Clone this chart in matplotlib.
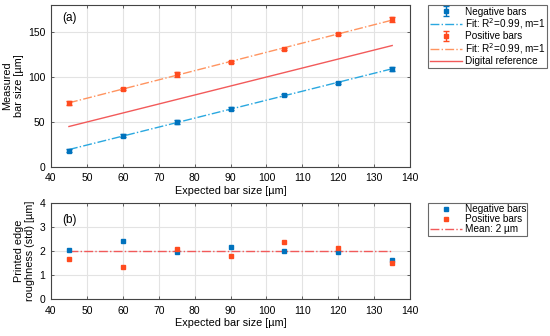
import matplotlib
matplotlib.use("Agg")
import matplotlib.pyplot as plt
import numpy as np

plt.rcParams['font.family'] = ['Liberation Sans', 'DejaVu Sans']

expected = [45, 60, 75, 90, 105, 120, 135]
neg_size = [18, 35, 50, 65, 80, 93, 109]
neg_err = [1.5, 1.5, 2, 2, 1, 1.2, 2.5]
pos_size = [71, 87, 103, 117, 131, 148, 164]
pos_err = [2, 1, 3, 1, 1.5, 1, 2.5]
digital_ref = [45, 60, 75, 90, 105, 120, 135]

neg_rough = [2.04, 2.42, 1.96, 2.16, 2.02, 1.98, 1.62]
pos_rough = [1.68, 1.35, 2.10, 1.80, 2.38, 2.15, 1.49]
mean_rough = 2

c_neg = '#0072BD'
c_pos = '#FF4B1F'
c_negfit = '#2AA8E0'
c_posfit = '#FF9460'
c_ref = '#F25A5A'
c_mean = '#F25A5A'

fs = 7.5
lfs = 7.2
fig = plt.figure(figsize=(5.5, 3.36), dpi=100)
ax1 = fig.add_axes([0.0927, 0.503, 0.653, 0.482])
ax2 = fig.add_axes([0.0927, 0.109, 0.653, 0.287])

x = np.array(expected)
pn = np.polyfit(x, neg_size, 1)
pp = np.polyfit(x, pos_size, 1)

h1 = ax1.errorbar(expected, neg_size, yerr=neg_err, fmt='s', ms=2.3, color=c_neg,
                  capsize=2, elinewidth=1, capthick=1, label='Negative bars', zorder=3)
h2, = ax1.plot(x, np.polyval(pn, x), '-.', color=c_negfit, lw=1, label='Fit: R$^2$=0.99, m=1')
h3 = ax1.errorbar(expected, pos_size, yerr=pos_err, fmt='s', ms=2.3, color=c_pos,
                  capsize=2, elinewidth=1, capthick=1, label='Positive bars', zorder=3)
h4, = ax1.plot(x, np.polyval(pp, x), '-.', color=c_posfit, lw=1, label='Fit: R$^2$=0.99, m=1')
h5, = ax1.plot(expected, digital_ref, '-', color=c_ref, lw=1, label='Digital reference')

ax1.set_xlim(40, 140)
ax1.set_ylim(0, 180)
ax1.set_yticks([0, 50, 100, 150])
ax1.set_xticks(range(40, 141, 10))
ax1.set_xlabel('Expected bar size [µm]', fontsize=fs + 0.3, labelpad=2)
ax1.set_ylabel('Measured\nbar size [µm]', fontsize=fs + 0.3, labelpad=3)
ax1.text(0.03, 0.92, '(a)', transform=ax1.transAxes, fontsize=fs + 1, va='center')

ax2.plot(expected, neg_rough, 's', ms=2.3, color=c_neg, label='Negative bars', zorder=3)
ax2.plot(expected, pos_rough, 's', ms=2.3, color=c_pos, label='Positive bars', zorder=3)
ax2.plot([expected[0], expected[-1]], [mean_rough, mean_rough], '-.', color=c_mean, lw=1,
         label='Mean: 2 µm')
ax2.set_xlim(40, 140)
ax2.set_ylim(0, 4)
ax2.set_yticks([0, 1, 2, 3, 4])
ax2.set_xticks(range(40, 141, 10))
ax2.set_xlabel('Expected bar size [µm]', fontsize=fs + 0.3, labelpad=2)
ax2.set_ylabel('Printed edge\nroughness (std) [µm]', fontsize=fs + 0.3, labelpad=3)
ax2.text(0.03, 0.82, '(b)', transform=ax2.transAxes, fontsize=fs + 1, va='center')

for ax in (ax1, ax2):
    ax.grid(True, color='#e3e3e3', lw=0.8)
    ax.set_axisbelow(True)
    ax.tick_params(labelsize=fs, length=2.5, width=0.6, color='#444444', direction='in',
                   top=True, right=True)
    ax.tick_params(axis='x', pad=4.5)
    ax.tick_params(axis='y', pad=4)
    for s in ax.spines.values():
        s.set_color('#444444')
        s.set_linewidth(0.8)

common = dict(loc='upper left', bbox_to_anchor=(1.05, 1.0), fontsize=lfs, frameon=True,
              fancybox=False, edgecolor='#444444', borderpad=0.15, labelspacing=0.0,
              handlelength=3.2, handletextpad=0.3, borderaxespad=0, handleheight=0.6)
leg1 = ax1.legend(handles=[h1, h2, h3, h4, h5], **common)
leg1.get_frame().set_linewidth(0.8)
leg2 = ax2.legend(**common)
leg2.get_frame().set_linewidth(0.8)

fig.savefig('out.png', dpi=100)
